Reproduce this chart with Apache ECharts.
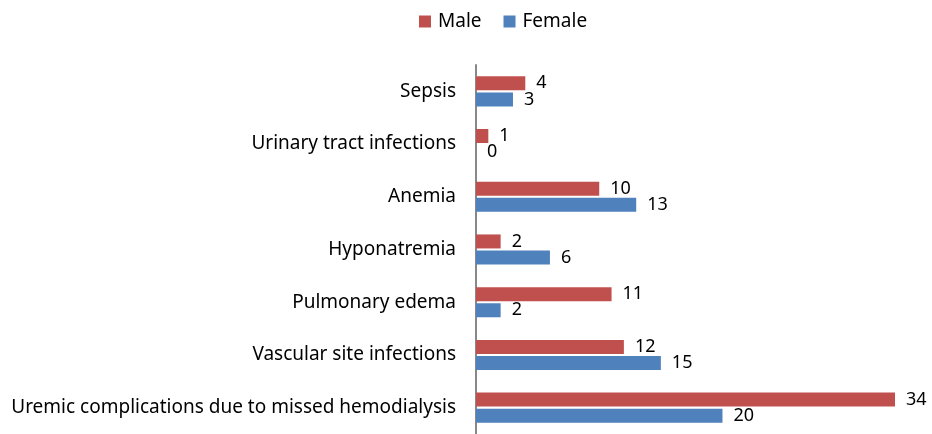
<!DOCTYPE html>
<html>
<head>
<meta charset="utf-8">
<script src="https://cdn.jsdelivr.net/npm/echarts@6/dist/echarts.min.js"></script>
<style>
  html, body { margin: 0; padding: 0; background: #fff; }
  #chart { width: 932px; height: 434px; }
</style>
</head>
<body>
<div id="chart"></div>
<script>
const categories = [
  'Sepsis',
  'Urinary tract infections',
  'Anemia',
  'Hyponatremia',
  'Pulmonary edema',
  'Vascular site infections',
  'Uremic complications due to missed hemodialysis'
]
const maleValues   = [4, 1, 10, 2, 11, 12, 34]
const femaleValues = [3, 0, 13, 6, 2, 15, 20]

const RED  = '#C0504D'
const BLUE = '#4F81BD'
const FONT = 'Noto Sans'

const chart = echarts.init(document.getElementById('chart'))

const labelStyle = {
  show: true,
  position: 'right',
  distance: 11,
  color: '#000',
  fontFamily: FONT,
  fontSize: 18,
}

chart.setOption({
  animation: false,
  legend: {
    top: 7,
    left: 414,
    itemWidth: 12,
    itemHeight: 12,
    itemGap: 22,
    icon: 'rect',
    textStyle: { fontFamily: FONT, fontSize: 19, color: '#000', padding: [0, 0, 0, 2] },
    data: ['Male', 'Female'],
  },
  grid: { left: 476, right: 37, top: 65, height: 373 },
  xAxis: { type: 'value', min: 0, max: 34, show: false },
  yAxis: {
    type: 'category',
    inverse: true,
    data: categories,
    axisLine: { show: true, lineStyle: { color: '#888', width: 2 } },
    axisTick: { show: false },
    axisLabel: { color: '#000', fontFamily: FONT, fontSize: 19, margin: 20 },
  },
  series: [
    {
      name: 'Male', type: 'bar', data: maleValues,
      itemStyle: { color: RED },
      barWidth: 14, barGap: '15%', barCategoryGap: '40%',
      label: { ...labelStyle },
    },
    {
      name: 'Female', type: 'bar', data: femaleValues,
      itemStyle: { color: BLUE },
      barWidth: 14,
      label: { ...labelStyle },
    },
  ],
})
</script>
</body>
</html>
